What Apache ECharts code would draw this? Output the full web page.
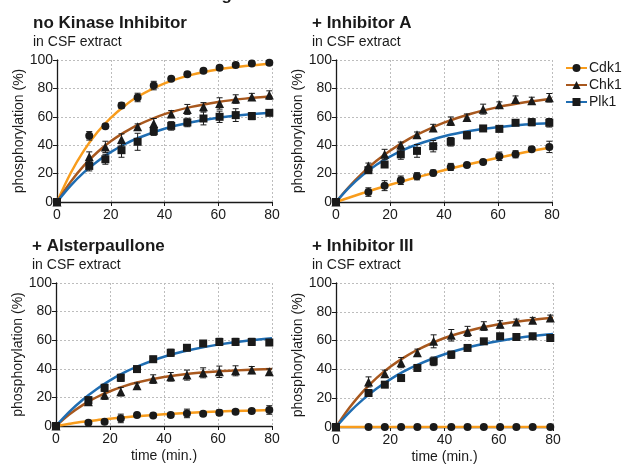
<!DOCTYPE html>
<html>
<head>
<meta charset="utf-8">
<script src="https://cdn.jsdelivr.net/npm/echarts@6/dist/echarts.min.js"></script>
<style>
  html, body { margin: 0; padding: 0; background: #fff; }
  #chart { width: 624px; height: 467px; }
</style>
</head>
<body>
<div id="chart"></div>
<script>
// sampling times of the measured points (min.)
const times = [0, 12, 18, 24, 30, 36, 42.5, 48.5, 54.5, 60.5, 66.5, 72.5, 79];
const fitTimes = [0, 5, 10, 15, 20, 25, 30, 40, 50, 60, 70, 80];

// --- no Kinase Inhibitor ---
const noInhCdk1 = [0, 46.6, 53.4, 68, 73.6, 82, 86.8, 90, 92.5, 94.6, 96.5, 97.6, 98.1];
const noInhCdk1Err = [0, 3, 1.5, 2, 3, 3, 1.5, 1.5, 1.5, 1.5, 1.5, 1.5, 1.5];
const noInhCdk1Fit = [0, 20.1, 36.2, 49.1, 59.3, 67.5, 74.1, 83.5, 89.5, 93.3, 95.7, 97.3];
const noInhChk1 = [0, 31.8, 38.8, 44, 53, 55.3, 61.9, 65.2, 67, 69.4, 72.5, 74, 75.3];
const noInhChk1Err = [0, 3.5, 4, 4, 2, 3.5, 2.5, 3.5, 3, 4, 3, 2.5, 3];
const noInhChk1Fit = [0, 14.0, 25.6, 35.0, 42.7, 49.0, 54.2, 61.9, 67.0, 70.5, 72.8, 74.4];
const noInhPlk1 = [0, 25.4, 30.1, 36.5, 42.4, 49.9, 53.6, 56, 58.8, 60, 61.2, 60.5, 62.8];
const noInhPlk1Err = [0, 3.5, 3.5, 5, 6, 3, 3, 3, 4.5, 4, 4.5, 2.5, 1.5];
const noInhPlk1Fit = [0, 11.4, 20.9, 28.6, 35.1, 40.5, 44.9, 51.6, 56.1, 59.3, 61.4, 62.8];

// --- + Inhibitor A ---
const inhACdk1 = [0, 7, 11.5, 15.3, 18.1, 20.5, 24.7, 26.1, 28.2, 32.2, 33.6, 37.2, 38.8];
const inhACdk1Err = [0, 3, 3.5, 3, 2.5, 2, 2.5, 1.5, 1.5, 3, 2.5, 1.5, 4];
const inhACdk1Fit = [0, 3.2, 6.3, 9.3, 12.1, 14.8, 17.4, 22.4, 26.9, 31.1, 35.0, 38.5];
const inhAChk1 = [0, 25.4, 33.6, 40.2, 47.3, 52.2, 56.9, 59.5, 65.4, 68.5, 72.2, 71.3, 73.4];
const inhAChk1Err = [0, 2, 3.5, 2, 2, 2.5, 3, 2.5, 3.5, 2, 2.5, 2.5, 3];
const inhAChk1Fit = [0, 11.1, 20.7, 29.0, 36.1, 42.2, 47.4, 55.9, 62.2, 66.8, 70.2, 72.7];
const inhAPlk1 = [0, 22.4, 26.4, 33.6, 36, 39.3, 42.4, 47, 51.8, 51.5, 55.8, 56.2, 55.8];
const inhAPlk1Err = [0, 2, 2, 3.5, 4.5, 4, 3, 2.5, 1.5, 2, 1.5, 2.5, 3];
const inhAPlk1Fit = [0, 10.5, 19.1, 26.2, 32.0, 36.7, 40.5, 46.3, 50.2, 52.7, 54.5, 55.6];

// --- + Alsterpaullone ---
const alsCdk1 = [0, 2.3, 3, 5.3, 7.7, 7.4, 7.7, 8.8, 8.6, 9.3, 10, 10.5, 11.2];
const alsCdk1Err = [0, 1, 1.5, 3, 1.5, 1.5, 1.5, 3, 1.5, 2, 1.5, 1.5, 3];
const alsCdk1Fit = [0, 1.5, 2.9, 4.1, 5.1, 6.0, 6.9, 8.2, 9.3, 10.1, 10.7, 11.2];
const alsChk1 = [0, 17, 21.6, 24, 28.1, 32.8, 34.4, 35.6, 37.2, 37.9, 38.6, 39.1, 37.9];
const alsChk1Err = [0, 2.5, 3, 3, 2, 3, 3, 3.5, 3.5, 4, 3.5, 2.5, 2];
const alsChk1Fit = [0, 8.2, 14.8, 20.1, 24.3, 27.7, 30.4, 34.2, 36.7, 38.2, 39.2, 39.9];
const alsPlk1 = [0, 18.1, 26.7, 33.7, 39.8, 46.7, 51.2, 54.7, 57.7, 58.8, 58.8, 58.8, 58.4];
const alsPlk1Err = [0, 2, 2.5, 2.5, 2, 2, 2.5, 2, 2, 2.5, 2.5, 2.5, 2];
const alsPlk1Fit = [0, 10.0, 18.5, 25.7, 31.9, 37.1, 41.5, 48.4, 53.3, 56.9, 59.5, 61.3];

// --- + Inhibitor III ---
const inh3Cdk1 = [0, 0, 0, 0, 0, 0, 0, 0, 0, 0, 0, 0, 0];
const inh3Cdk1Err = [0, 1, 1, 1, 1, 1, 1, 1, 1, 1, 1, 1, 1];
const inh3Cdk1Fit = [0, 0, 0, 0, 0, 0, 0, 0, 0, 0, 0, 0];
const inh3Chk1 = [0, 31.3, 37, 44.7, 51.6, 59.5, 63.7, 66.4, 70.1, 71.3, 72.9, 74.1, 75.7];
const inh3Chk1Err = [0, 3.5, 2.5, 3.5, 2.5, 4.5, 4, 3.5, 3, 2.5, 2, 2, 2];
const inh3Chk1Fit = [0, 13.5, 24.7, 34.1, 41.8, 48.2, 53.6, 61.8, 67.4, 71.3, 74.0, 75.9];
const inh3Plk1 = [0, 23.6, 29.4, 34, 41, 45.6, 50.2, 54.9, 59.5, 63, 62.5, 63, 61.8];
const inh3Plk1Err = [0, 2, 2, 2, 2, 3, 2.5, 1.5, 1.5, 2, 1.5, 2, 2];
const inh3Plk1Fit = [0, 10.4, 19.2, 26.7, 33.1, 38.6, 43.2, 50.5, 55.9, 59.7, 62.6, 64.6];

const xTicks = [0, 20, 40, 60, 80];
const yTicks = [0, 20, 40, 60, 80, 100];

const kinases = ['Cdk1', 'Chk1', 'Plk1'];
const kinaseColors = { Cdk1: '#f89c1c', Chk1: '#a8581e', Plk1: '#1f6db2' };
const kinaseSymbols = { Cdk1: 'circle', Chk1: 'triangle', Plk1: 'rect' };
const kinaseSymbolSizes = { Cdk1: 8, Chk1: 9, Plk1: 8 };

const panels = [
  { title: 'no Kinase Inhibitor', grid: { left: 57, top: 60, width: 215, height: 142 }, xName: false, nameGap: 30,
    Cdk1: [noInhCdk1, noInhCdk1Err, noInhCdk1Fit], Chk1: [noInhChk1, noInhChk1Err, noInhChk1Fit], Plk1: [noInhPlk1, noInhPlk1Err, noInhPlk1Fit] },
  { title: '+ Inhibitor A', grid: { left: 336, top: 60, width: 216, height: 142 }, xName: false, nameGap: 27,
    Cdk1: [inhACdk1, inhACdk1Err, inhACdk1Fit], Chk1: [inhAChk1, inhAChk1Err, inhAChk1Fit], Plk1: [inhAPlk1, inhAPlk1Err, inhAPlk1Fit] },
  { title: '+ Alsterpaullone', grid: { left: 56, top: 283, width: 216, height: 143 }, xName: true, nameGap: 29,
    Cdk1: [alsCdk1, alsCdk1Err, alsCdk1Fit], Chk1: [alsChk1, alsChk1Err, alsChk1Fit], Plk1: [alsPlk1, alsPlk1Err, alsPlk1Fit] },
  { title: '+ Inhibitor III', grid: { left: 336, top: 283, width: 217, height: 144 }, xName: true, nameGap: 27,
    Cdk1: [inh3Cdk1, inh3Cdk1Err, inh3Cdk1Fit], Chk1: [inh3Chk1, inh3Chk1Err, inh3Chk1Fit], Plk1: [inh3Plk1, inh3Plk1Err, inh3Plk1Fit] }
];

const FONT = '"Liberation Sans", Arial, sans-serif';
const ink = '#1a1a1a';

function errorBars(params, api) {
  const x = api.value(0), y = api.value(1), e = api.value(2);
  if (!e) return null;
  const top = api.coord([x, y + e]);
  const bot = api.coord([x, y - e]);
  const w = 3;
  const style = { stroke: ink, lineWidth: 1 };
  return {
    type: 'group',
    children: [
      { type: 'line', shape: { x1: top[0], y1: top[1], x2: bot[0], y2: bot[1] }, style },
      { type: 'line', shape: { x1: top[0] - w, y1: top[1], x2: top[0] + w, y2: top[1] }, style },
      { type: 'line', shape: { x1: bot[0] - w, y1: bot[1], x2: bot[0] + w, y2: bot[1] }, style }
    ]
  };
}

const grids = [], xAxes = [], yAxes = [], titles = [], series = [];

panels.forEach((p, i) => {
  grids.push(p.grid);
  const titleTop = p.grid.top - 47;
  titles.push({ text: p.title, left: p.grid.left - 24, top: titleTop, padding: 0,
    textStyle: { fontFamily: FONT, fontSize: 17, fontWeight: 'bold', color: ink, lineHeight: 20 } });
  titles.push({ text: 'in CSF extract', left: p.grid.left - 24, top: titleTop + 21, padding: 0,
    textStyle: { fontFamily: FONT, fontSize: 14, fontWeight: 'normal', color: ink, lineHeight: 16 } });

  xAxes.push({
    gridIndex: i, type: 'value', min: 0, max: 80, interval: 20,
    name: p.xName ? 'time (min.)' : '', nameLocation: 'middle', nameGap: 23,
    nameTextStyle: { fontFamily: FONT, fontSize: 14, color: ink },
    axisLine: { show: true, onZero: false, lineStyle: { color: ink, width: 1.3 } },
    axisTick: { show: true, inside: false, length: 4, lineStyle: { color: ink } },
    axisLabel: { margin: 6, fontFamily: FONT, fontSize: 14, color: ink,
      customValues: xTicks },
    splitLine: { show: true, showMinLine: false, lineStyle: { color: '#bdbdbd', type: [2, 2], width: 1 } }
  });
  yAxes.push({
    gridIndex: i, type: 'value', min: 0, max: 100, interval: 20,
    name: 'phosphorylation (%)', nameLocation: 'middle', nameGap: p.nameGap,
    nameTextStyle: { fontFamily: FONT, fontSize: 14, color: ink },
    axisLine: { show: true, onZero: false, lineStyle: { color: ink, width: 1.3 } },
    axisTick: { show: true, inside: false, length: 4, lineStyle: { color: ink } },
    axisLabel: { margin: 4, fontFamily: FONT, fontSize: 14, color: ink,
      customValues: yTicks },
    splitLine: { show: true, showMinLine: false, lineStyle: { color: '#bdbdbd', type: [2, 2], width: 1 } }
  });

  // fitted curves first (so the legend takes its icon from them)
  kinases.forEach(k => {
    const fit = p[k][2];
    series.push({
      name: k, type: 'line', xAxisIndex: i, yAxisIndex: i,
      data: fitTimes.map((t, j) => [t, fit[j]]),
      smooth: 0.35, symbol: kinaseSymbols[k], symbolSize: kinaseSymbolSizes[k] - 1, showSymbol: false,
      lineStyle: { color: kinaseColors[k], width: 2.5 },
      itemStyle: { color: ink },
      silent: true, z: 2
    });
  });
  kinases.forEach(k => {
    const vals = p[k][0], errs = p[k][1];
    series.push({
      name: k, type: 'custom', xAxisIndex: i, yAxisIndex: i,
      renderItem: errorBars,
      data: times.map((t, j) => [t, vals[j], errs[j]]),
      encode: { x: 0, y: 1 }, silent: true, z: 3
    });
    series.push({
      name: k, type: 'scatter', xAxisIndex: i, yAxisIndex: i,
      data: times.map((t, j) => [t, vals[j]]),
      symbol: kinaseSymbols[k], symbolSize: kinaseSymbolSizes[k],
      itemStyle: { color: ink, opacity: 1 }, silent: true, z: 4
    });
  });
});

const chart = echarts.init(document.getElementById('chart'), null, { renderer: 'canvas' });
chart.setOption({
  animation: false,
  backgroundColor: '#fff',
  title: titles,
  grid: grids,
  xAxis: xAxes,
  yAxis: yAxes,
  legend: {
    data: kinases, orient: 'vertical', left: 565, top: 61, padding: 0,
    itemWidth: 21, itemHeight: 10, itemGap: 3,
    textStyle: { fontFamily: FONT, fontSize: 14, color: ink, lineHeight: 14, padding: [0, 0, 0, -3] },
    selectedMode: false
  },
  graphic: [{
    type: 'text', x: 232, y: 4,
    style: { text: 'Unexpected Kinase Inhibitor Profiling', align: 'right', verticalAlign: 'bottom',
      font: 'bold 17px ' + FONT, fill: ink }
  }],
  series: series
});
</script>
</body>
</html>
